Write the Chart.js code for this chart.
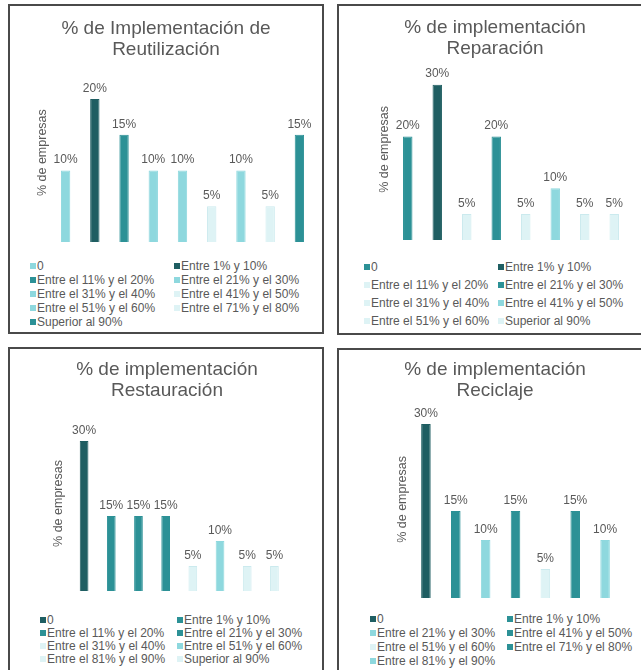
<!DOCTYPE html>
<html lang="es">
<head>
<meta charset="utf-8">
<title>% de implementación por práctica</title>
<script src="https://cdn.jsdelivr.net/npm/chart.js@4.4.0/dist/chart.umd.min.js"></script>
<style>
  html, body { margin: 0; padding: 0; background: #fff; }
  body { position: relative; width: 641px; height: 670px; overflow: hidden;
         font-family: "Liberation Sans", Arial, sans-serif; }
  .panel { position: absolute; box-sizing: border-box; border: 2px solid #4a4a4a; background: transparent; }
  canvas { position: absolute; }
  .item { position: absolute; font-size: 12px; line-height: 14px; color: #595959; white-space: nowrap; }
  .item i { position: absolute; left: 0; top: 4px; width: 6px; height: 6px; }
  .item span { position: absolute; left: 7px; top: 0; }
</style>
</head>
<body>
<script>
// ---- Datos ----
const reutilizacionCategorias = ['0', 'Entre 1% y 10%', 'Entre el 11% y el 20%', 'Entre el 21% y el 30%',
  'Entre el 31% y el 40%', 'Entre el 41% y el 50%', 'Entre el 51% y el 60%', 'Entre el 71% y el 80%', 'Superior al 90%'];
const reutilizacionValores = [10, 20, 15, 10, 10, 5, 10, 5, 15];

const reparacionCategorias = ['0', 'Entre 1% y 10%', 'Entre el 11% y el 20%', 'Entre el 21% y el 30%',
  'Entre el 31% y el 40%', 'Entre el 41% y el 50%', 'Entre el 51% y el 60%', 'Superior al 90%'];
const reparacionValores = [20, 30, 5, 20, 5, 10, 5, 5];

const restauracionCategorias = ['0', 'Entre 1% y 10%', 'Entre el 11% y el 20%', 'Entre el 21% y el 30%',
  'Entre el 31% y el 40%', 'Entre el 51% y el 60%', 'Entre el 81% y el 90%', 'Superior al 90%'];
const restauracionValores = [30, 15, 15, 15, 5, 10, 5, 5];

const reciclajeCategorias = ['0', 'Entre 1% y 10%', 'Entre el 21% y el 30%', 'Entre el 41% y el 50%',
  'Entre el 51% y el 60%', 'Entre el 71% y el 80%', 'Entre el 81% y el 90%'];
const reciclajeValores = [30, 15, 10, 15, 5, 15, 10];

const tituloEje = '% de empresas';

// ---- Estilo ----
const paleta = {
  oscuro: { fill: '#1f5e62', border: '#1f5e62' },
  medio:  { fill: '#2c9196', border: '#2c9196' },
  claro:  { fill: '#8ed8de', border: '#8ed8de' },
  palido: { fill: '#def3f5', border: '#cbeaee' }
};
const reutilizacionTonos = ['claro', 'oscuro', 'medio', 'claro', 'claro', 'palido', 'claro', 'palido', 'medio'];
const reparacionTonos    = ['medio', 'oscuro', 'palido', 'medio', 'palido', 'claro', 'palido', 'palido'];
const restauracionTonos  = ['oscuro', 'medio', 'medio', 'medio', 'palido', 'claro', 'palido', 'palido'];
const reciclajeTonos     = ['oscuro', 'medio', 'claro', 'medio', 'palido', 'medio', 'claro'];

const FUENTE = '"Liberation Sans", Arial, sans-serif';
const GRIS = '#595959';

// Etiqueta de valor encima de cada barra
const etiquetasValor = {
  id: 'etiquetasValor',
  afterDatasetsDraw(chart) {
    const ctx = chart.ctx;
    const ds = chart.data.datasets[0];
    const meta = chart.getDatasetMeta(0);
    ctx.save();
    ctx.font = '12px ' + FUENTE;
    ctx.fillStyle = GRIS;
    ctx.textAlign = 'center';
    ctx.textBaseline = 'middle';
    meta.data.forEach((bar, i) => ctx.fillText(ds.data[i] + '%', bar.x, bar.y - 10.5));
    ctx.restore();
  }
};

function panel(cfg) {
  const box = document.createElement('div');
  box.className = 'panel';
  Object.assign(box.style, { left: cfg.box[0] + 'px', top: cfg.box[1] + 'px', width: cfg.box[2] + 'px', height: cfg.box[3] + 'px' });
  document.body.appendChild(box);

  const cv = document.createElement('canvas');
  cv.width = cfg.canvas[2]; cv.height = cfg.canvas[3];
  Object.assign(cv.style, { left: cfg.canvas[0] + 'px', top: cfg.canvas[1] + 'px', width: cfg.canvas[2] + 'px', height: cfg.canvas[3] + 'px' });
  document.body.appendChild(cv);

  const chart = new Chart(cv, {
    type: 'bar',
    data: {
      labels: cfg.categorias,
      datasets: [{
        data: cfg.valores,
        backgroundColor: cfg.tonos.map(t => paleta[t].fill),
        borderColor: cfg.tonos.map(t => paleta[t].border),
        borderWidth: 1,
        barPercentage: 0.32,
        categoryPercentage: 1
      }]
    },
    options: {
      responsive: false,
      animation: false,
      layout: { padding: 0 },
      plugins: {
        legend: { display: false },
        tooltip: { enabled: false },
        title: {
          display: true,
          text: cfg.titulo,
          color: GRIS,
          font: { family: FUENTE, size: 19, weight: 'normal', lineHeight: 1.1 },
          padding: { top: cfg.tituloPad[0], bottom: cfg.tituloPad[1] }
        }
      },
      scales: {
        x: { display: false },
        y: {
          min: 0, max: cfg.max,
          ticks: { display: false },
          grid: { display: false, drawTicks: false },
          border: { display: false },
          title: {
            display: true, text: tituloEje, color: GRIS,
            font: { family: FUENTE, size: 12.5, weight: 'normal', lineHeight: 1.2 },
            padding: { top: cfg.ejePad[0], bottom: cfg.ejePad[1] }
          }
        }
      }
    },
    plugins: [etiquetasValor]
  });

  // Leyenda en dos columnas, a partir de los datos del gráfico
  const ds = chart.data.datasets[0];
  chart.data.labels.forEach((lab, i) => {
    const fila = Math.floor(i / 2), col = i % 2;
    const it = document.createElement('div');
    it.className = 'item';
    it.style.left = cfg.leyenda.cols[col] + 'px';
    it.style.top = (cfg.leyenda.y0 + fila * cfg.leyenda.paso - 7) + 'px';
    const m = document.createElement('i');
    m.style.background = ds.backgroundColor[i];
    const s = document.createElement('span');
    s.textContent = lab;
    it.appendChild(m); it.appendChild(s);
    document.body.appendChild(it);
  });
}

panel({
  titulo: ['% de Implementación de', 'Reutilización'],
  categorias: reutilizacionCategorias, valores: reutilizacionValores, tonos: reutilizacionTonos,
  box: [8, 4, 316, 330], canvas: [18, 6, 296, 236],
  tituloPad: [12, 3.45], max: 25, ejePad: [17, 1],
  leyenda: { y0: 266, paso: 14, cols: [30, 174] }
});
panel({
  titulo: ['% de implementación', 'Reparación'],
  categorias: reparacionCategorias, valores: reparacionValores, tonos: reparacionTonos,
  box: [337, 4, 330, 331], canvas: [361, 6, 268, 234],
  tituloPad: [11, 0], max: 35, ejePad: [16, 1],
  leyenda: { y0: 267, paso: 18, cols: [364, 498] }
});
panel({
  titulo: ['% de implementación', 'Restauración'],
  categorias: restauracionCategorias, valores: restauracionValores, tonos: restauracionTonos,
  box: [8, 347, 316, 340], canvas: [46, 349, 242, 242],
  tituloPad: [10, 15.2], max: 35, ejePad: [5.5, 4],
  leyenda: { y0: 620, paso: 13, cols: [40, 177] }
});
panel({
  titulo: ['% de implementación', 'Reciclaje'],
  categorias: reciclajeCategorias, valores: reciclajeValores, tonos: reciclajeTonos,
  box: [337, 348, 330, 340], canvas: [370, 350, 250, 248],
  tituloPad: [9, 0], max: 34, ejePad: [25.5, 0.5],
  leyenda: { y0: 619, paso: 14, cols: [370, 507] }
});
</script>
</body>
</html>
